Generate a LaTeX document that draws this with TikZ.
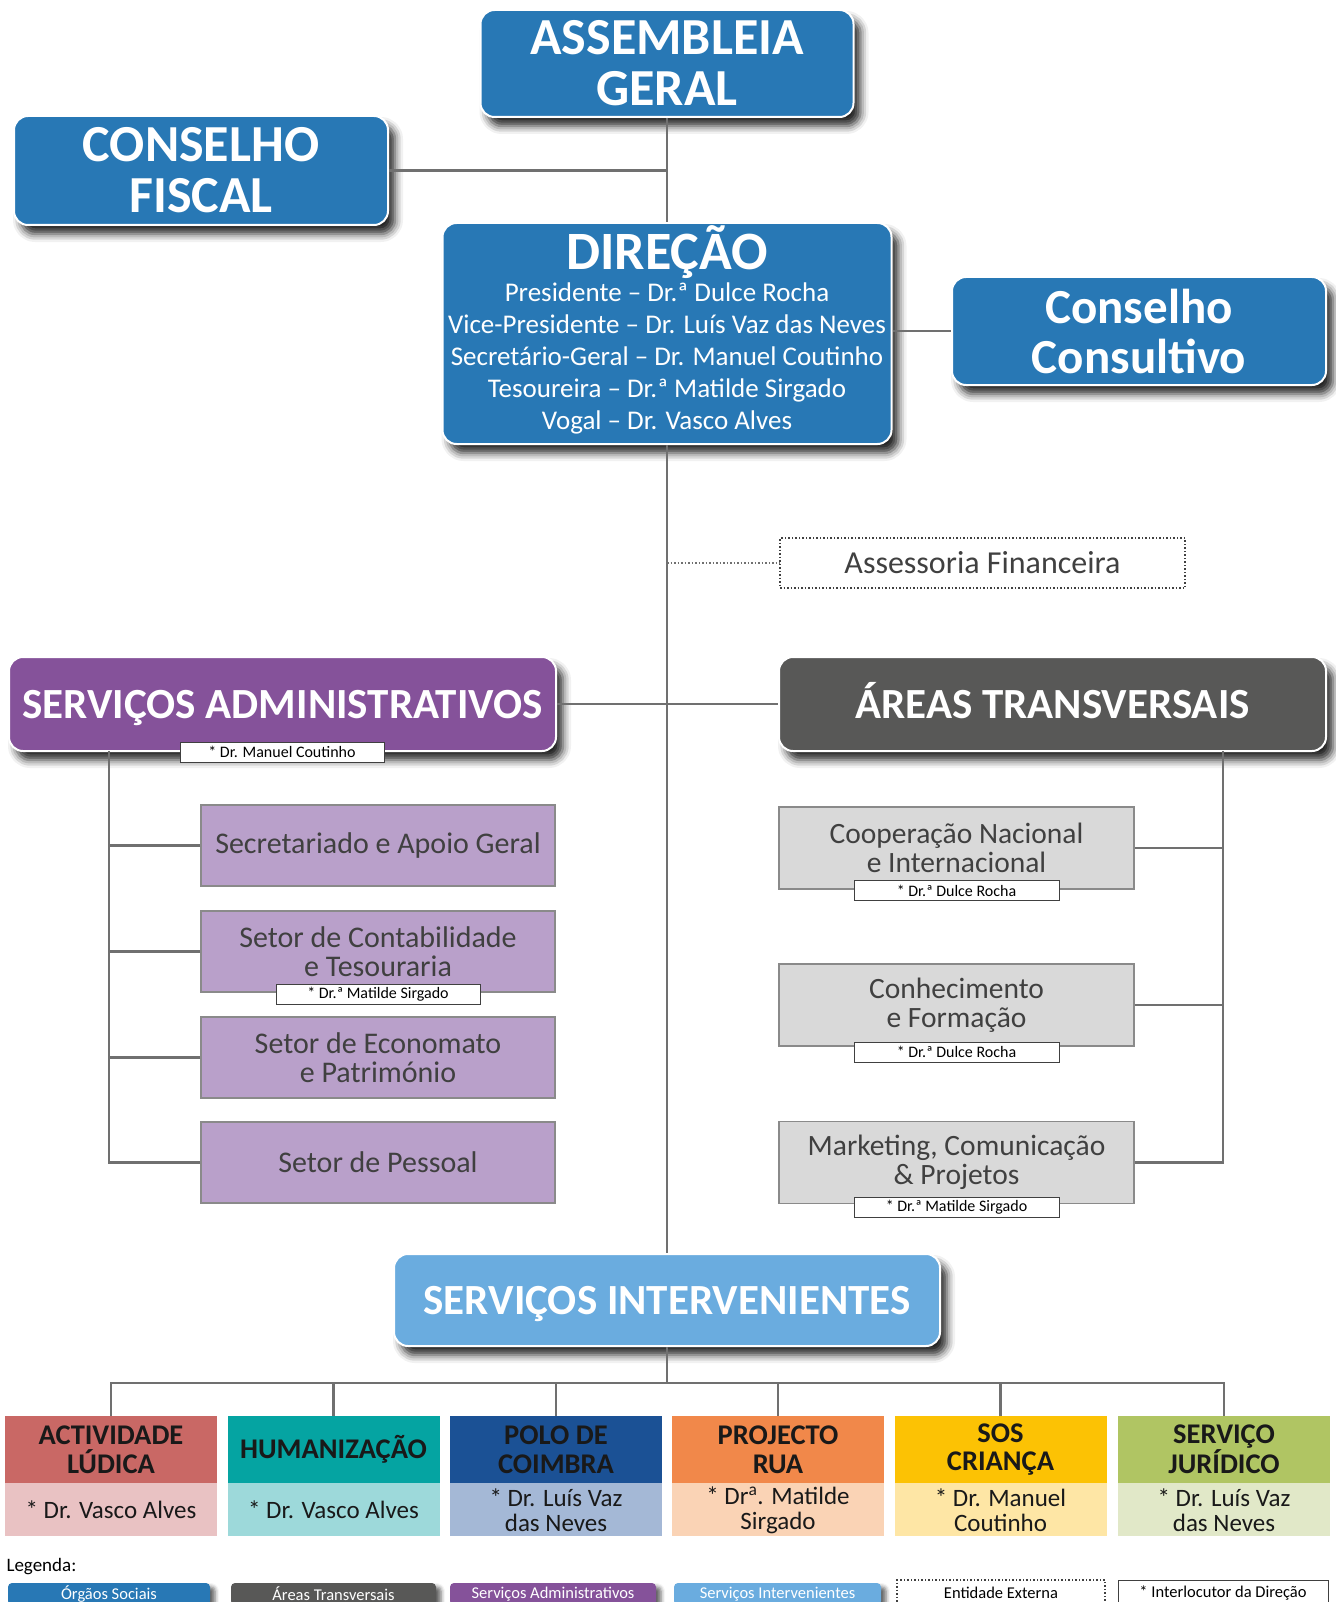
\documentclass[tikz,border=0pt]{standalone}
\usepackage{fontspec}
\setmainfont{Carlito}
\usetikzlibrary{shadows.blur}
\definecolor{orgblue}{HTML}{2878B5}
\definecolor{areagrey}{HTML}{585857}
\definecolor{admpurple}{HTML}{85529A}
\definecolor{intblue}{HTML}{6AACDF}
\definecolor{lilac}{HTML}{B9A0CA}
\definecolor{lightgrey}{HTML}{D9D9D9}
\definecolor{midgrey}{HTML}{8A8A8A}
\definecolor{linegrey}{HTML}{707070}
\definecolor{txtgrey}{HTML}{404040}
\definecolor{ludA}{HTML}{C96865}\definecolor{ludB}{HTML}{E9C2C3}
\definecolor{humA}{HTML}{05A4A2}\definecolor{humB}{HTML}{9DD9DA}
\definecolor{polA}{HTML}{1B5195}\definecolor{polB}{HTML}{A4B8D6}
\definecolor{ruaA}{HTML}{F1884A}\definecolor{ruaB}{HTML}{FAD3B5}
\definecolor{sosA}{HTML}{FCC204}\definecolor{sosB}{HTML}{FEE6A5}
\definecolor{jurA}{HTML}{B0C563}\definecolor{jurB}{HTML}{E1E8C8}

\begin{document}
\begin{tikzpicture}[x=1pt,y=-1pt,draw=linegrey]
	\tikzstyle{orgao}=[rectangle,rounded corners=14pt,fill=orgblue,draw=white,line width=2pt,text=white,align=center,inner sep=0pt,font=\fontsize{52}{51}\selectfont\bfseries,blur shadow={shadow xshift=7pt,shadow yshift=-9pt,shadow blur radius=8pt,shadow opacity=85}]
	\tikzstyle{ramo}=[orgao,minimum width=547pt,minimum height=94pt,text height=28pt,text depth=0pt,font=\fontsize{43}{43}\selectfont\bfseries]
	\tikzstyle{setor}=[rectangle,fill=lilac,draw=midgrey,line width=1.5pt,text=txtgrey,align=center,inner sep=0pt,minimum width=354pt,minimum height=81pt,font=\fontsize{30}{29}\selectfont]
	\tikzstyle{area}=[setor,fill=lightgrey,minimum width=355pt,minimum height=82pt,font=\fontsize{29.5}{29}\selectfont]
	\tikzstyle{interloc}=[rectangle,fill=white,draw=txtgrey,line width=1pt,inner sep=0pt,minimum width=204pt,minimum height=20pt,font=\fontsize{16}{16}\selectfont]
	\tikzstyle{cab}=[rectangle,inner sep=0pt,minimum width=212pt,minimum height=67pt,align=center,text=black!90,font=\fontsize{28.5}{28.5}\selectfont\bfseries]
	\tikzstyle{nome}=[cab,minimum height=53pt,font=\fontsize{25}{25}\selectfont]
	\tikzstyle{leg}=[rectangle,rounded corners=4pt,inner sep=0pt,minimum height=22pt,text=white,font=\fontsize{16.5}{16.5}\selectfont,blur shadow={shadow xshift=5pt,shadow yshift=-4pt,shadow blur radius=4pt,shadow opacity=60}]
	\useasboundingbox (0,0) rectangle (1335,1602);

	% orgaos sociais
	\node[orgao,minimum width=373pt,minimum height=107pt](assembleia) at (667,63.5){ASSEMBLEIA\\GERAL};
	\node[orgao,minimum width=374pt,minimum height=109pt](fiscal) at (201,170.5){CONSELHO\\FISCAL};
	\node[orgao,minimum width=449pt,minimum height=221pt,text depth=11pt,font=\fontsize{27}{32}\selectfont](direcao) at (667,333.5){{\fontsize{54}{40}\selectfont\bfseries DIREÇÃO}\\Presidente – Dr.ª Dulce Rocha\\Vice-Presidente – Dr. Luís Vaz das Neves\\Secretário-Geral – Dr. Manuel Coutinho\\Tesoureira – Dr.ª Matilde Sirgado\\Vogal – Dr. Vasco Alves};
	\node[orgao,minimum width=374pt,minimum height=108pt,font=\fontsize{49}{50}\selectfont\bfseries](consultivo) at (1139,331){Conselho\\Consultivo};
	\node[rectangle,draw=txtgrey,line width=1.5pt,dotted,minimum width=405pt,minimum height=50pt,text=txtgrey,font=\fontsize{32}{32}\selectfont](assessoria) at (982.5,563){Assessoria Financeira};

	% servicos administrativos
	\node[ramo,fill=admpurple](admin) at (282.5,704){SERVIÇOS ADMINISTRATIVOS};
	\node[interloc](adm-int) at (282,752){* Dr. Manuel Coutinho};
	\node[setor](p-1) at (378,845.5){Secretariado e Apoio Geral};
	\node[setor](p-2) at (378,951.5){Setor de Contabilidade\\e Tesouraria};
	\node[setor](p-3) at (378,1057.5){Setor de Economato\\e Património};
	\node[setor](p-4) at (378,1162.5){Setor de Pessoal};
	\node[interloc](p-int) at (378,994){* Dr.ª Matilde Sirgado};

	% areas transversais
	\node[ramo,fill=areagrey](areas) at (1052.5,704){ÁREAS TRANSVERSAIS};
	\node[area](g-1) at (956.5,848){Cooperação Nacional\\e Internacional};
	\node[area](g-2) at (956.5,1005){Conhecimento\\e Formação};
	\node[area](g-3) at (956.5,1162.5){Marketing, Comunicação\\\& Projetos};
	\node[interloc,minimum width=205pt](g-int-1) at (956.5,890.5){* Dr.ª Dulce Rocha};
	\node[interloc,minimum width=205pt](g-int-2) at (956.5,1052){* Dr.ª Dulce Rocha};
	\node[interloc,minimum width=205pt](g-int-3) at (956.5,1207){* Dr.ª Matilde Sirgado};

	% servicos intervenientes
	\node[ramo,fill=intblue,minimum width=546pt,minimum height=92pt](interv) at (667,1300){SERVIÇOS INTERVENIENTES};
	\foreach \i/\x/\ca/\cb/\titulo/\resp in {
		1/111/ludA/ludB/{ACTIVIDADE\\LÚDICA}/{* Dr. Vasco Alves},
		2/333.5/humA/humB/{HUMANIZAÇÃO}/{* Dr. Vasco Alves},
		3/556/polA/polB/{POLO DE\\COIMBRA}/{* Dr. Luís Vaz\\das Neves},
		4/778/ruaA/ruaB/{PROJECTO\\RUA}/{* Dr\textsuperscript{a}. Matilde\\Sirgado},
		5/1000.5/sosA/sosB/{SOS\\CRIANÇA}/{* Dr. Manuel\\Coutinho},
		6/1224/jurA/jurB/{SERVIÇO\\JURÍDICO}/{* Dr. Luís Vaz\\das Neves}}{
	\node[cab,fill=\ca](s-\i) at (\x,1449.5){\titulo};
	\node[nome,fill=\cb,anchor=north](r-\i) at (s-\i.south){\resp};
	}

	% legenda
	\node[anchor=west,font=\fontsize{19}{19}\selectfont](legenda) at (3,1567){Legenda:};
	\node[leg,fill=orgblue,minimum width=202pt](l-1) at (109,1594){Órgãos Sociais};
	\node[leg,fill=areagrey,minimum width=205pt](l-2) at (333.5,1594){Áreas Transversais};
	\node[leg,fill=admpurple,minimum width=206pt](l-3) at (553,1594){Serviços Administrativos};
	\node[leg,fill=intblue,minimum width=207pt](l-4) at (777.5,1594){Serviços Intervenientes};
	\node[rectangle,draw=txtgrey,line width=1.5pt,dotted,minimum width=208pt,minimum height=26pt,inner sep=0pt,font=\fontsize{16.5}{16.5}\selectfont](l-5) at (1001,1593){Entidade Externa};
	\node[interloc,minimum width=210pt,minimum height=26pt,font=\fontsize{16.5}{16.5}\selectfont](l-6) at (1223,1593){* Interlocutor da Direção};

	% ligacoes
	\coordinate (lbus) at (109,751);
	\coordinate (rbus) at (1223,751);
	\coordinate (bbus) at (667,1383);
	\draw[line width=2.5pt] (assembleia.south) -- (direcao.north);
	\draw[line width=2.5pt] (fiscal.east) -- (fiscal.east -| assembleia.south);
	\draw[line width=2.5pt] (direcao.east |- consultivo.west) -- (consultivo.west);
	\draw[line width=2.5pt] (direcao.south) -- (interv.north);
	\draw[line width=2.5pt] (admin.east) -- (areas.west);
	\draw[line width=1.5pt,dotted] (assessoria.west -| direcao.south) -- (assessoria.west);
	\foreach \i in {1,2,3,4}{
	\draw[line width=2.5pt] (p-\i.west) -| (lbus);
	}
	\foreach \i in {1,2,3}{
	\draw[line width=2.5pt] (g-\i.east) -| (rbus);
	}
	\draw[line width=2.5pt] (interv.south) -- (bbus);
	\foreach \i in {1,...,6}{
	\draw[line width=2.5pt] (s-\i.north) |- (bbus);
	}
\end{tikzpicture}
\end{document}
